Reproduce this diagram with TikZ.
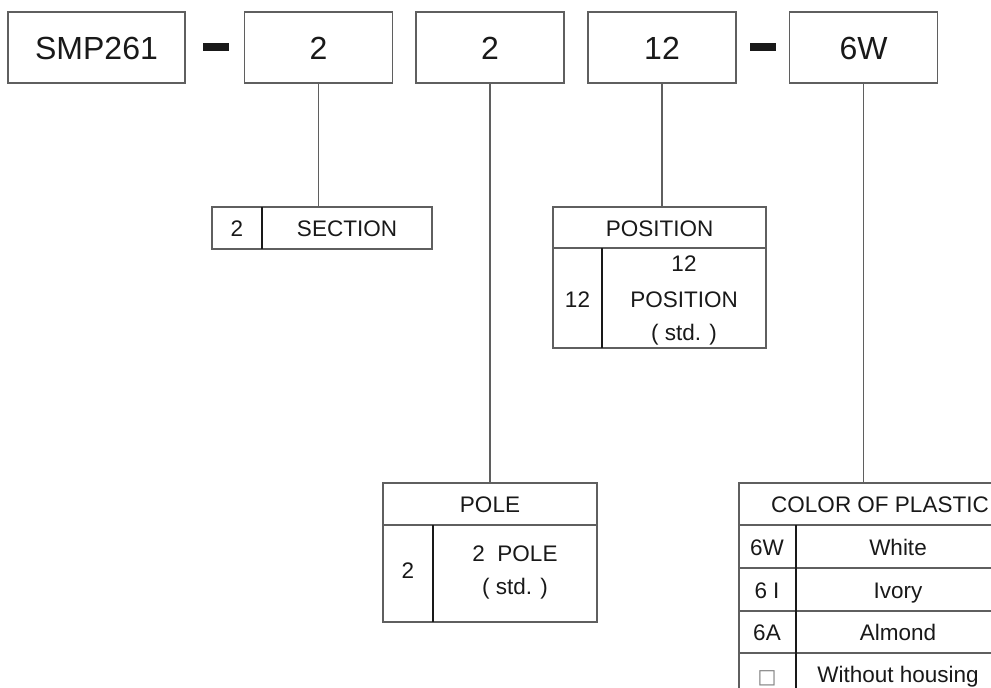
\documentclass[tikz,border=0pt]{standalone}
\usepackage{fontspec}
\setmainfont{Liberation Sans}
\newfontfamily\symfont{DejaVu Sans}
\definecolor{linegray}{RGB}{95,95,95}
\definecolor{inkcol}{RGB}{25,25,25}
\begin{document}
\begin{tikzpicture}[x=1pt,y=-1pt,
  topbox/.style={draw=linegray, line width=1.2pt, minimum width=148pt, minimum height=71pt,
    inner sep=0pt, outer sep=0pt, font=\fontsize{32}{38}\selectfont, text=inkcol,
    text height=23pt, text depth=0pt},
  dashbar/.style={fill=inkcol, draw=none, minimum width=26pt, minimum height=8pt, inner sep=0pt},
  tabbox/.style={draw=linegray, line width=1.2pt, inner sep=0pt, outer sep=0pt},
  lbl/.style={font=\fontsize{22.5}{27}\selectfont, text=inkcol, inner sep=0pt,
    text height=16pt, text depth=0pt},
  rowline/.style={draw=linegray, line width=1.2pt},
  divline/.style={draw=inkcol, line width=1.2pt},
  conn/.style={draw=linegray, line width=1.2pt}]
\path[use as bounding box, clip] (0,0) rectangle (991,688);
\fill[white] (0,0) rectangle (991,688);

% top row
\node[topbox, minimum width=177pt] (smp) at (96.5,47.5) {SMP261};
\node[dashbar] (d1) at (216,47) {};
\node[topbox] (b1) at (318.5,47.5) {2};
\node[topbox] (b2) at (490,47.5) {2};
\node[topbox] (b3) at (662,47.5) {12};
\node[dashbar] (d2) at (762.5,47) {};
\node[topbox] (b4) at (863.5,47.5) {6W};

% SECTION table
\node[tabbox, minimum width=220pt, minimum height=42pt] (sec) at (322,228) {};
\draw[divline] (262,207) -- (262,249);
\node[lbl] (secv) at (237,228) {2};
\node[lbl] (sect) at (347,228) {SECTION};

% POSITION table
\node[tabbox, minimum width=213pt, minimum height=141pt] (pos) at (659.5,277.5) {};
\draw[rowline] (553,248) -- (766,248);
\draw[divline] (602,248) -- (602,348);
\node[lbl] (posh) at (659.5,228) {POSITION};
\node[lbl] (posv) at (577.5,299) {12};
\node[lbl] (posa) at (684,263) {12};
\node[lbl] (posb) at (684,299) {POSITION};
\node[lbl] (posc) at (684,332) {( std. )};

% POLE table
\node[tabbox, minimum width=214pt, minimum height=139pt] (pole) at (490,552.5) {};
\draw[rowline] (383,525) -- (597,525);
\draw[divline] (433,525) -- (433,622);
\node[lbl] (poleh) at (490,504) {POLE};
\node[lbl] (polev) at (408,570) {2};
\node[lbl] (polea) at (515,553) {2\ \ POLE};
\node[lbl] (poleb) at (515,586) {( std. )};

% COLOR OF PLASTIC table
\node[tabbox, minimum width=261pt, minimum height=212pt] (col) at (869.5,589) {};
\draw[rowline] (739,525) -- (1000,525);
\draw[rowline] (739,568) -- (1000,568);
\draw[rowline] (739,611) -- (1000,611);
\draw[rowline] (739,653) -- (1000,653);
\draw[divline] (796,525) -- (796,695);
\node[lbl] (colh) at (880,504) {COLOR OF PLASTIC};
\node[lbl] (c1a) at (767,547) {6W};
\node[lbl] (c1b) at (898,547) {White};
\node[lbl] (c2a) at (767,590) {6 I};
\node[lbl] (c2b) at (898,590) {Ivory};
\node[lbl] (c3a) at (767,632) {6A};
\node[lbl] (c3b) at (898,632) {Almond};
\node[lbl, text=gray, font=\symfont\fontsize{20}{24}\selectfont, text height=14pt] (c4a) at (767,676) {□};
\node[lbl] (c4b) at (898,674) {Without housing};

% connectors
\draw[conn] (b1.south) -- (b1.south |- sec.north);
\draw[conn] (b2.south) -- (b2.south |- pole.north);
\draw[conn] (b3.south) -- (b3.south |- pos.north);
\draw[conn] (b4.south) -- (b4.south |- col.north);
\end{tikzpicture}
\end{document}
